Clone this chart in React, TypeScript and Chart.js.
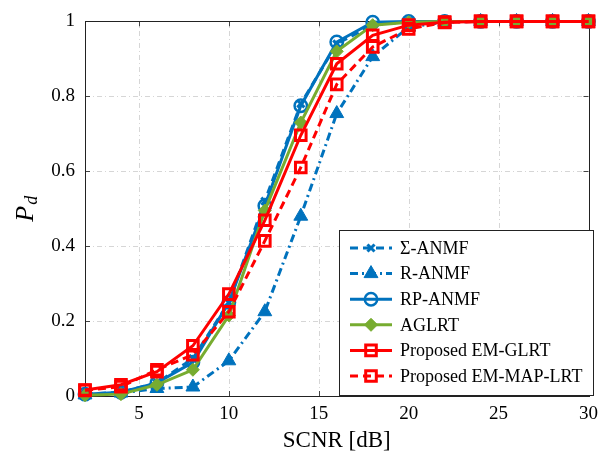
import React, { useEffect, useRef } from "react";
import { Chart, registerables } from "chart.js";
import { drawPoint } from "chart.js/helpers";

Chart.register(...registerables);

// ---- data ----
const snr = [2, 4, 6, 8, 10, 12, 14, 16, 18, 20, 22, 24, 26, 28, 30];
const xTicks = [5, 10, 15, 20, 25, 30];
const yTicks = [0, 0.2, 0.4, 0.6, 0.8, 1];
const seriesLabels = [
  "Σ-ANMF",
  "R-ANMF",
  "RP-ANMF",
  "AGLRT",
  "Proposed EM-GLRT",
  "Proposed EM-MAP-LRT",
];
const sigmaAnmf = [0.005, 0.01, 0.035, 0.1, 0.25, 0.52, 0.78, 0.94, 0.99, 1, 1, 1, 1, 1, 1];
const rAnmf = [0.003, 0.008, 0.02, 0.024, 0.094, 0.225, 0.48, 0.754, 0.906, 0.985, 0.998, 1, 1, 1, 1];
const rpAnmf = [0.005, 0.01, 0.035, 0.09, 0.25, 0.508, 0.775, 0.945, 0.998, 1, 1, 1, 1, 1, 1];
const aglrt = [0.002, 0.005, 0.03, 0.07, 0.215, 0.495, 0.73, 0.92, 0.99, 0.998, 1, 1, 1, 1, 1];
const emGlrt = [0.016, 0.03, 0.065, 0.134, 0.272, 0.469, 0.696, 0.887, 0.963, 0.99, 0.998, 1, 1, 1, 1];
const emMapLrt = [0.015, 0.025, 0.07, 0.11, 0.225, 0.414, 0.61, 0.832, 0.932, 0.98, 0.997, 1, 1, 1, 1];
const seriesValues = [sigmaAnmf, rAnmf, rpAnmf, aglrt, emGlrt, emMapLrt];

// ---- styles ----
const BLUE = "#0072BD";
const GREEN = "#77AC30";
const RED = "#FF0000";
const FONT = "'Liberation Serif', 'DejaVu Serif', serif";
const NONE = "rgba(0,0,0,0)";

const styles = [
  { color: BLUE, dash: [8, 5], point: "crossRot", r: 5, fill: NONE, pw: 3 },
  { color: BLUE, dash: [8, 4, 2, 4], point: "triangle", r: 8, fill: BLUE, pw: 1 },
  { color: BLUE, dash: [], point: "circle", r: 6.2, fill: NONE, pw: 2.5 },
  { color: GREEN, dash: [], point: "rectRot", r: 6.5, fill: GREEN, pw: 1 },
  { color: RED, dash: [], point: "rect", r: 7.5, fill: NONE, pw: 3 },
  { color: RED, dash: [8, 5], point: "rect", r: 7.5, fill: NONE, pw: 3 },
];

const framePlugin = {
  id: "frameGrid",
  beforeDatasetsDraw(chart: any) {
    const { ctx, chartArea: a, scales } = chart;
    const xs = scales.x;
    const ys = scales.y;
    ctx.save();
    ctx.strokeStyle = "#d6d6d6";
    ctx.lineWidth = 1;
    ctx.setLineDash([5, 3, 1, 3]);
    xTicks.forEach((v) => {
      const px = Math.round(xs.getPixelForValue(v)) + 0.5;
      ctx.beginPath();
      ctx.moveTo(px, a.bottom);
      ctx.lineTo(px, a.top);
      ctx.stroke();
    });
    yTicks.forEach((v) => {
      const py = Math.round(ys.getPixelForValue(v)) + 0.5;
      ctx.beginPath();
      ctx.moveTo(a.left, py);
      ctx.lineTo(a.right, py);
      ctx.stroke();
    });
    ctx.setLineDash([]);
    // inward ticks
    ctx.strokeStyle = "#444";
    const tl = 5;
    xTicks.forEach((v) => {
      const px = Math.round(xs.getPixelForValue(v)) + 0.5;
      ctx.beginPath();
      ctx.moveTo(px, a.bottom);
      ctx.lineTo(px, a.bottom - tl);
      ctx.moveTo(px, a.top);
      ctx.lineTo(px, a.top + tl);
      ctx.stroke();
    });
    yTicks.forEach((v) => {
      const py = Math.round(ys.getPixelForValue(v)) + 0.5;
      ctx.beginPath();
      ctx.moveTo(a.left, py);
      ctx.lineTo(a.left + tl, py);
      ctx.moveTo(a.right, py);
      ctx.lineTo(a.right - tl, py);
      ctx.stroke();
    });
    // frame
    ctx.strokeStyle = "#222";
    ctx.lineWidth = 1;
    const l = Math.round(a.left) + 0.5;
    const r = Math.round(a.right) + 0.5;
    const t = Math.round(a.top) + 0.5;
    const b = Math.round(a.bottom) + 0.5;
    ctx.strokeRect(l, t, r - l, b - t);
    ctx.restore();
  },
  afterDraw(chart: any) {
    const { ctx, chartArea: a } = chart;
    ctx.save();
    // x title
    ctx.fillStyle = "#000";
    ctx.font = `23px ${FONT}`;
    ctx.textAlign = "center";
    ctx.textBaseline = "middle";
    ctx.fillText("SCNR [dB]", (a.left + a.right) / 2, 441);
    // y title P_d
    ctx.translate(25, (a.top + a.bottom) / 2);
    ctx.rotate(-Math.PI / 2);
    ctx.font = `italic 26px ${FONT}`;
    const pw = ctx.measureText("P").width;
    ctx.font = `italic 18px ${FONT}`;
    const dw = ctx.measureText("d").width;
    const total = pw + dw + 1;
    ctx.textAlign = "left";
    ctx.textBaseline = "alphabetic";
    ctx.font = `italic 26px ${FONT}`;
    ctx.fillText("P", -total / 2, 8);
    ctx.font = `italic 18px ${FONT}`;
    ctx.fillText("d", -total / 2 + pw + 1, 12);
    ctx.restore();

    // legend
    ctx.save();
    const bx = 339.5, by = 230.5, bw = 254, bh = 165;
    ctx.fillStyle = "#fff";
    ctx.fillRect(bx, by, bw, bh);
    ctx.strokeStyle = "#222";
    ctx.lineWidth = 1;
    ctx.strokeRect(bx, by, bw, bh);
    const rowY0 = 248;
    const rowH = 25.6;
    seriesLabels.forEach((label, i) => {
      const s = styles[i];
      const y = rowY0 + i * rowH;
      ctx.strokeStyle = s.color;
      ctx.lineWidth = 3;
      ctx.setLineDash(s.dash);
      ctx.beginPath();
      ctx.moveTo(350, y);
      ctx.lineTo(392, y);
      ctx.stroke();
      ctx.setLineDash([]);
      ctx.fillStyle = s.fill;
      ctx.lineWidth = s.pw;
      drawPoint(ctx, { pointStyle: s.point, radius: s.r, rotation: 0, borderWidth: s.pw } as any, 371, y);
      ctx.fillStyle = "#000";
      ctx.font = `18px ${FONT}`;
      ctx.textAlign = "left";
      ctx.textBaseline = "middle";
      ctx.fillText(label, 400, y + 1);
    });
    ctx.restore();
  },
};

export default function App() {
  const ref = useRef<HTMLCanvasElement | null>(null);
  useEffect(() => {
    if (!ref.current) return;
    const n = seriesLabels.length;
    const datasets = seriesLabels.map((label, i) => {
      const s = styles[i];
      return {
        label,
        data: snr.map((x, j) => ({ x, y: seriesValues[i][j] })),
        borderColor: s.color,
        backgroundColor: s.color,
        borderWidth: 3,
        borderDash: s.dash,
        pointStyle: s.point,
        pointRadius: s.r,
        pointBorderWidth: s.pw,
        pointBorderColor: s.color,
        pointBackgroundColor: s.fill,
        tension: 0,
        fill: false,
        clip: false as any,
        order: n - i,
      };
    });
    const chart = new Chart(ref.current, {
      type: "line",
      data: { datasets },
      options: {
        animation: false,
        responsive: false,
        devicePixelRatio: 1,
        layout: { padding: { left: 0, right: 12, top: 14, bottom: 0 } },
        plugins: { legend: { display: false }, tooltip: { enabled: false } },
        scales: {
          x: {
            type: "linear",
            min: 2,
            max: 30,
            afterBuildTicks: (scale: any) => {
              scale.ticks = xTicks.map((v) => ({ value: v }));
            },
            afterFit: (scale: any) => {
              scale.height = 64;
            },
            grid: { display: false, drawTicks: false },
            border: { display: false },
            ticks: {
              font: { family: FONT, size: 19 },
              color: "#000",
              padding: 7,
              maxRotation: 0,
              callback: (v: any) => String(v),
            },
          },
          y: {
            type: "linear",
            min: 0,
            max: 1,
            afterBuildTicks: (scale: any) => {
              scale.ticks = yTicks.map((v) => ({ value: v }));
            },
            afterFit: (scale: any) => {
              scale.width = 85;
            },
            grid: { display: false, drawTicks: false },
            border: { display: false },
            ticks: {
              font: { family: FONT, size: 19 },
              color: "#000",
              padding: 10,
              callback: (v: any) => (v === 0 ? "0" : v === 1 ? "1" : Number(v).toFixed(1)),
            },
          },
        },
      },
      plugins: [framePlugin],
    });
    return () => chart.destroy();
  }, []);
  return (
    <canvas
      ref={ref}
      width={605}
      height={460}
      style={{ position: "absolute", left: 0, top: 0, width: 605, height: 460, display: "block" }}
    />
  );
}
